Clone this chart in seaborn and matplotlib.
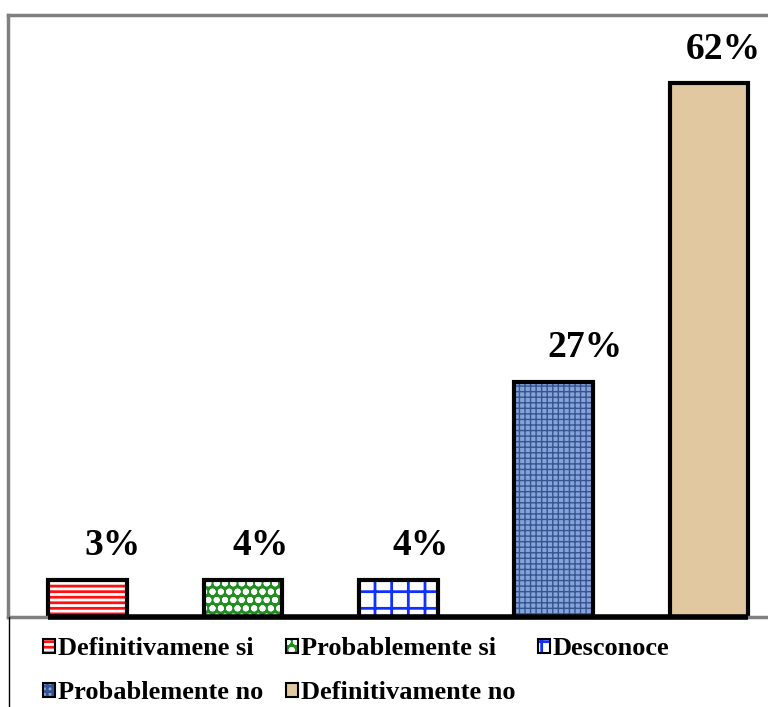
import matplotlib
matplotlib.use("Agg")
import matplotlib.pyplot as plt
from matplotlib.patches import Patch
from matplotlib.lines import Line2D
from matplotlib.legend_handler import HandlerTuple
import seaborn as sns

# data
categories = ["Definitivamene si", "Probablemente si", "Desconoce",
              "Probablemente no", "Definitivamente no"]
bar_heights = [4.3, 4.3, 4.3, 27.3, 62.0]
bar_labels = ["3%", "4%", "4%", "27%", "62%"]

# fill styles: face, hatch, hatch colour
FACES = ["white", "#1f8f1f", "white", "#86a4da", "#e2c8a0"]
HATCHES = ["---", "oo", "+", "+++", ""]
HATCH_COLORS = ["#ff1010", "white", "#1030ff", "#34558f", "#e2c8a0"]
LABEL_DX = [25, 18, 22, 31, 14]   # pixel shift of value labels

sns.set_theme(style="white")
plt.rcParams["font.family"] = ["Liberation Serif", "DejaVu Serif"]
plt.rcParams["font.weight"] = "bold"
plt.rcParams["text.color"] = "black"
plt.rcParams["hatch.linewidth"] = 2.0

W, H = 768, 707
fig = plt.figure(figsize=(W / 100, H / 100), dpi=100)
ax = fig.add_axes([8 / W, 90 / H, (W - 8) / W + 0.01, (617 - 15) / H])

# patterned fill first, then black outlines on top
sns.barplot(x=categories, y=bar_heights, hue=categories, palette=FACES,
            width=0.506, ax=ax, legend=False, linewidth=0, saturation=1)
for i, (p, h, hc) in enumerate(zip(ax.patches, HATCHES, HATCH_COLORS)):
    p.set_hatch(h)
    p.set_edgecolor(hc)
    p.set_linewidth(0)
    if i == 3 and hasattr(p, "set_hatch_linewidth"):
        p.set_hatch_linewidth(1.0)
sns.barplot(x=categories, y=bar_heights, fill=False, color="black",
            width=0.506, ax=ax, linewidth=3, edgecolor="black")

ax.set_xlim(-0.512, 4.428)
ax.set_ylim(0, 69.9)
ax.set_xticks([])
ax.set_yticks([])
ax.set_xlabel("")
ax.set_ylabel("")
for side in ["left", "top", "bottom"]:
    ax.spines[side].set_color("#808080")
    ax.spines[side].set_linewidth(2.5)
ax.spines["right"].set_visible(False)

bars = ax.patches[:5]
x0 = bars[0].get_x()
x1 = bars[-1].get_x() + bars[-1].get_width()
ax.hlines(0, x0, x1, color="black", linewidth=4, zorder=5, clip_on=False)

for b, lab, dx in zip(bars, bar_labels, LABEL_DX):
    ax.annotate(lab, (b.get_x() + b.get_width() / 2, b.get_height()),
                xytext=(dx, 34), textcoords="offset pixels",
                ha="center", va="center", fontsize=27, fontweight="bold",
                color="black")

# legend, filled row by row; each marker = pattern + black outline
handles = [(Patch(facecolor=f, hatch=h, edgecolor=hc, linewidth=0),
            Patch(fill=False, edgecolor="black", linewidth=1.5))
           for f, h, hc in zip(FACES, HATCHES, HATCH_COLORS)]
order = [0, 3, 1, 4, 2]
fig.legend([handles[i] for i in order], [categories[i] for i in order],
           handler_map={tuple: HandlerTuple(ndivide=1, pad=0)},
           ncol=3, loc="upper left", bbox_to_anchor=(30 / W, 1 - 624 / H),
           frameon=False, borderpad=0,
           handlelength=0.45, handleheight=0.45, handletextpad=0.12,
           columnspacing=0.85, labelspacing=0.8, labelcolor="black",
           prop={"weight": "bold", "size": 19})

fig.add_artist(Line2D([9 / W, 9 / W], [0, 90 / H], color="black", linewidth=1))

fig.savefig("out.png", dpi=100)
